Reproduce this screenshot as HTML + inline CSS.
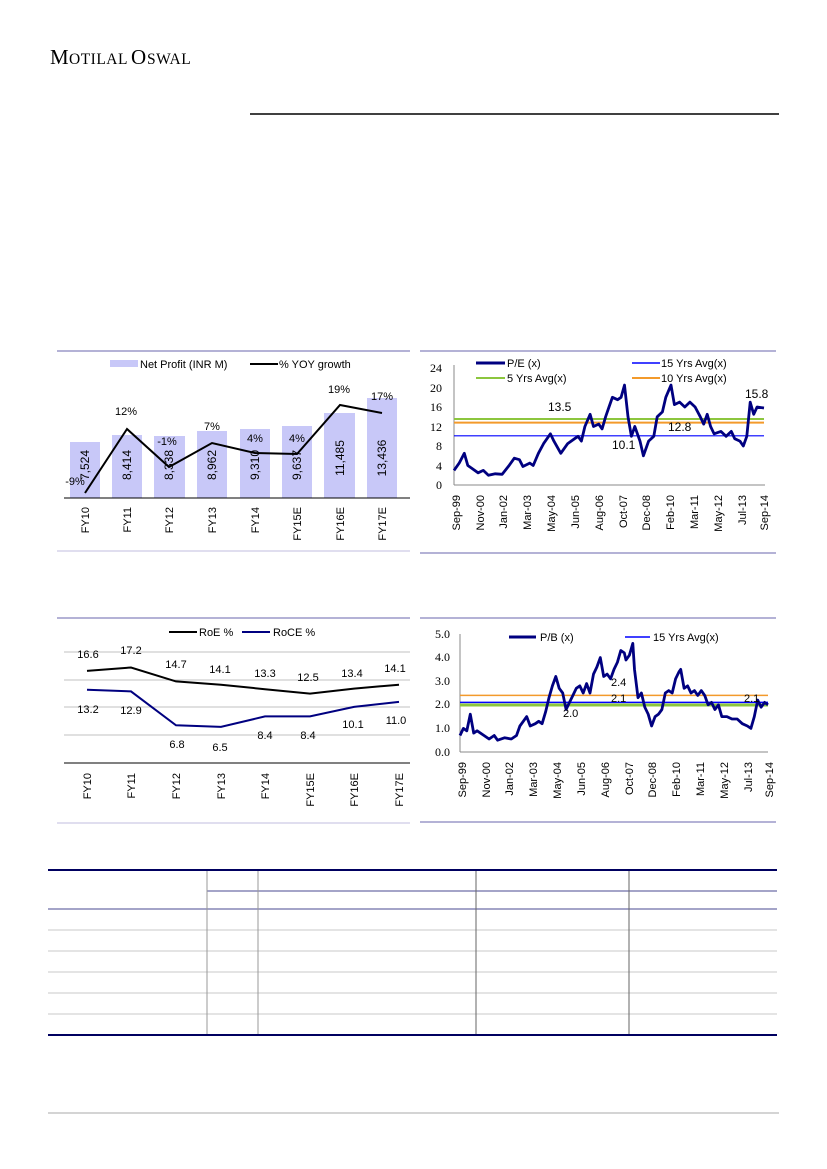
<!DOCTYPE html>
<html><head><meta charset="utf-8"><style>
body{margin:0;background:#fff}
svg{display:block}
text{font-family:"Liberation Sans",sans-serif;font-size:11px;fill:#000}
.s{font-family:"Liberation Serif",serif}
.t text{font-family:"Liberation Serif",serif;font-size:12px}
</style></head><body>
<svg width="827" height="1169" viewBox="0 0 827 1169" xmlns="http://www.w3.org/2000/svg">
<text class="s" x="50" y="64" style="font-size:21px">M</text><text class="s" x="69" y="64" style="font-size:15.5px;letter-spacing:0.5px">OTILAL</text><text class="s" x="131" y="64" style="font-size:21px">O</text><text class="s" x="147" y="64" style="font-size:15.5px;letter-spacing:0.5px">SWAL</text>
<line x1="250" y1="114" x2="779" y2="114" stroke="#000" stroke-width="1.5"/>

<!-- Chart 1 -->
<line x1="57" y1="351" x2="410" y2="351" stroke="#9c98c8" stroke-width="1.5"/>
<line x1="57" y1="551" x2="410" y2="551" stroke="#d6d4ea" stroke-width="1.5"/>
<rect x="110" y="360" width="28" height="7" fill="#c8c8f8"/>
<text x="140" y="368">Net Profit (INR M)</text>
<line x1="250" y1="364" x2="278" y2="364" stroke="#000" stroke-width="2"/>
<text x="279" y="368">% YOY growth</text>
<g fill="#c8c8f8">
<rect x="70" y="442" width="30" height="56"/><rect x="112" y="435" width="30" height="63"/>
<rect x="154" y="436" width="31" height="62"/><rect x="197" y="431" width="30" height="67"/>
<rect x="240" y="429" width="30" height="69"/><rect x="282" y="426" width="30" height="72"/>
<rect x="324" y="413" width="31" height="85"/><rect x="367" y="398" width="30" height="100"/>
</g>
<line x1="64" y1="498" x2="410" y2="498" stroke="#000" stroke-width="1"/>
<g>
<text transform="translate(89,465) rotate(-90)" text-anchor="middle" style="font-size:12px">7,524</text>
<text transform="translate(131,465) rotate(-90)" text-anchor="middle" style="font-size:12px">8,414</text>
<text transform="translate(173,465) rotate(-90)" text-anchor="middle" style="font-size:12px">8,338</text>
<text transform="translate(216,465) rotate(-90)" text-anchor="middle" style="font-size:12px">8,962</text>
<text transform="translate(259,465) rotate(-90)" text-anchor="middle" style="font-size:12px">9,310</text>
<text transform="translate(301,465) rotate(-90)" text-anchor="middle" style="font-size:12px">9,637</text>
<text transform="translate(344,458) rotate(-90)" text-anchor="middle" style="font-size:12px">11,485</text>
<text transform="translate(386,458) rotate(-90)" text-anchor="middle" style="font-size:12px">13,436</text>
</g>
<polyline points="85,493 127,429 169,467 212,443 255,453 297,454 340,405 382,413" fill="none" stroke="#000" stroke-width="2"/>
<g text-anchor="middle">
<text x="75" y="485">-9%</text><text x="126" y="415">12%</text><text x="167" y="445">-1%</text>
<text x="212" y="430">7%</text><text x="255" y="442">4%</text><text x="297" y="442">4%</text>
<text x="339" y="393">19%</text><text x="382" y="400">17%</text>
</g>
<g text-anchor="end">
<text transform="translate(89,507) rotate(-90)">FY10</text><text transform="translate(131,507) rotate(-90)">FY11</text>
<text transform="translate(173,507) rotate(-90)">FY12</text><text transform="translate(216,507) rotate(-90)">FY13</text>
<text transform="translate(259,507) rotate(-90)">FY14</text><text transform="translate(301,507) rotate(-90)">FY15E</text>
<text transform="translate(344,507) rotate(-90)">FY16E</text><text transform="translate(386,507) rotate(-90)">FY17E</text>
</g>

<!-- Chart 2 P/E -->
<line x1="420" y1="351" x2="776" y2="351" stroke="#9c98c8" stroke-width="1.5"/>
<line x1="420" y1="553" x2="776" y2="553" stroke="#9c98c8" stroke-width="1.5"/>
<line x1="454" y1="365" x2="454" y2="485" stroke="#888"/>
<line x1="454" y1="485" x2="765" y2="485" stroke="#888"/>
<g text-anchor="end" class="t">
<text x="442" y="372">24</text><text x="442" y="392">20</text><text x="442" y="411">16</text><text x="442" y="431">12</text>
<text x="442" y="450">8</text><text x="442" y="470">4</text><text x="442" y="489">0</text>
</g>
<line x1="476" y1="363" x2="505" y2="363" stroke="#000080" stroke-width="3"/><text x="507" y="367">P/E (x)</text>
<line x1="632" y1="363" x2="660" y2="363" stroke="#0000ff" stroke-width="1.5"/><text x="661" y="367">15 Yrs Avg(x)</text>
<line x1="476" y1="378" x2="505" y2="378" stroke="#8cc63e" stroke-width="2"/><text x="507" y="382">5 Yrs Avg(x)</text>
<line x1="632" y1="378" x2="660" y2="378" stroke="#f39a2b" stroke-width="2"/><text x="661" y="382">10 Yrs Avg(x)</text>
<line x1="454" y1="419" x2="764" y2="419" stroke="#8cc63e" stroke-width="2"/>
<line x1="454" y1="422.6" x2="764" y2="422.6" stroke="#f39a2b" stroke-width="2"/>
<line x1="454" y1="435.8" x2="764" y2="435.8" stroke="#0000ff" stroke-width="1.2"/>
<polyline fill="none" stroke="#000080" stroke-width="2.8" stroke-linejoin="round" points="454,470.4 459.2,463.1 464.3,453.3 467.8,465.5 471.2,467.9 478.1,472.8 483.3,470.4 488.4,475.3 495.3,473.8 502.2,474.3 509.1,465.5 514.3,458.2 519.4,459.7 522.9,466.5 529.8,463.1 533.2,465.5 538.4,453.3 543.6,443.6 550.4,433.8 553.9,441.1 560.8,453.3 567.7,443.6 574.6,438.7 578,436.3 581.4,441.1 584.9,426.5 590.1,414.3 593.5,426.5 598.7,424.1 602.1,428.9 605.6,416.8 609,407 612.4,397.3 617.6,399.7 621.1,397.3 624.5,385.1 628,416.8 631.4,436.3 634.8,426.5 640,441.1 643.4,455.8 648.6,441.1 653.8,436.3 657.2,416.8 662.4,411.9 665.8,397.3 671,385.1 674.4,404.6 679.6,402.1 684.8,407 689.9,402.1 695.1,407 700.3,416.8 703.7,424.1 707.2,414.3 710.6,426.5 714.1,433.8 720.9,431.4 726.1,436.3 731.3,431.4 734.7,438.7 739.9,441.1 743.3,446 746.8,436.3 750.2,402.1 753.7,414.3 757.1,407 764,408"/>
<text x="548" y="411" style="font-size:12px">13.5</text><text x="612" y="449" style="font-size:12px">10.1</text>
<text x="668" y="431" style="font-size:12px">12.8</text><text x="745" y="398" style="font-size:12px">15.8</text>
<g text-anchor="end">
<text transform="translate(460,495) rotate(-90)">Sep-99</text><text transform="translate(484,495) rotate(-90)">Nov-00</text>
<text transform="translate(507,495) rotate(-90)">Jan-02</text><text transform="translate(531,495) rotate(-90)">Mar-03</text>
<text transform="translate(555,495) rotate(-90)">May-04</text><text transform="translate(579,495) rotate(-90)">Jun-05</text>
<text transform="translate(603,495) rotate(-90)">Aug-06</text><text transform="translate(627,495) rotate(-90)">Oct-07</text>
<text transform="translate(650,495) rotate(-90)">Dec-08</text><text transform="translate(674,495) rotate(-90)">Feb-10</text>
<text transform="translate(698,495) rotate(-90)">Mar-11</text><text transform="translate(722,495) rotate(-90)">May-12</text>
<text transform="translate(746,495) rotate(-90)">Jul-13</text><text transform="translate(768,495) rotate(-90)">Sep-14</text>
</g>

<!-- Chart 3 RoE -->
<line x1="57" y1="618" x2="410" y2="618" stroke="#9c98c8" stroke-width="1.5"/>
<line x1="57" y1="823" x2="410" y2="823" stroke="#d6d4ea" stroke-width="1.5"/>
<line x1="169" y1="632" x2="197" y2="632" stroke="#000" stroke-width="2"/><text x="199" y="636">RoE %</text>
<line x1="242" y1="632" x2="270" y2="632" stroke="#000080" stroke-width="2"/><text x="273" y="636">RoCE %</text>
<g stroke="#c0c0c0"><line x1="64" y1="652" x2="410" y2="652"/><line x1="64" y1="680" x2="410" y2="680"/><line x1="64" y1="707" x2="410" y2="707"/><line x1="64" y1="735" x2="410" y2="735"/></g>
<line x1="64" y1="763" x2="410" y2="763" stroke="#000"/>
<polyline fill="none" stroke="#000" stroke-width="2" points="87,670.9 131,667.5 176,681.4 221,684.7 265,689.2 310,693.6 354,688.6 399,684.7"/>
<polyline fill="none" stroke="#000080" stroke-width="2" points="87,689.7 131,691.4 176,725.3 221,726.9 265,716.4 310,716.4 354,706.9 399,701.9"/>
<g text-anchor="middle">
<text x="88" y="658">16.6</text><text x="131" y="654">17.2</text><text x="176" y="668">14.7</text><text x="220" y="673">14.1</text>
<text x="265" y="677">13.3</text><text x="308" y="681">12.5</text><text x="352" y="677">13.4</text><text x="395" y="672">14.1</text>
<text x="88" y="713">13.2</text><text x="131" y="714">12.9</text><text x="177" y="748">6.8</text><text x="220" y="751">6.5</text>
<text x="265" y="739">8.4</text><text x="308" y="739">8.4</text><text x="353" y="728">10.1</text><text x="396" y="724">11.0</text>
</g>
<g text-anchor="end">
<text transform="translate(91,773) rotate(-90)">FY10</text><text transform="translate(135,773) rotate(-90)">FY11</text>
<text transform="translate(180,773) rotate(-90)">FY12</text><text transform="translate(225,773) rotate(-90)">FY13</text>
<text transform="translate(269,773) rotate(-90)">FY14</text><text transform="translate(314,773) rotate(-90)">FY15E</text>
<text transform="translate(358,773) rotate(-90)">FY16E</text><text transform="translate(403,773) rotate(-90)">FY17E</text>
</g>

<!-- Chart 4 P/B -->
<line x1="420" y1="618" x2="776" y2="618" stroke="#9c98c8" stroke-width="1.5"/>
<line x1="420" y1="822" x2="776" y2="822" stroke="#9c98c8" stroke-width="1.5"/>
<line x1="460" y1="634" x2="460" y2="752" stroke="#888"/>
<line x1="460" y1="752" x2="768" y2="752" stroke="#888"/>
<g text-anchor="end" class="t">
<text x="450" y="638">5.0</text><text x="450" y="661">4.0</text><text x="450" y="685">3.0</text><text x="450" y="708">2.0</text>
<text x="450" y="732">1.0</text><text x="450" y="756">0.0</text>
</g>
<line x1="509" y1="637" x2="536" y2="637" stroke="#000080" stroke-width="3"/><text x="540" y="641">P/B (x)</text>
<line x1="625" y1="637" x2="650" y2="637" stroke="#0000ff" stroke-width="1.5"/><text x="653" y="641">15 Yrs Avg(x)</text>
<line x1="460" y1="695.4" x2="768" y2="695.4" stroke="#f39a2b" stroke-width="1.5"/>
<line x1="460" y1="705" x2="768" y2="705" stroke="#8cc63e" stroke-width="3"/>
<line x1="460" y1="702.4" x2="768" y2="702.4" stroke="#0000ff" stroke-width="1.5"/>
<polyline fill="none" stroke="#000080" stroke-width="2.8" stroke-linejoin="round" points="460,735.5 463.4,728.4 466.8,730.8 470.3,714.2 473.7,733.1 477.1,730.8 484,735.5 489.1,739 494.2,735.5 497.6,740.2 504.5,737.8 511.3,739 516.5,735.5 519.9,726 523.3,721.3 526.7,716.6 530.2,726 535.3,723.7 538.7,721.3 542.1,723.7 545.6,711.9 549,697.7 552.4,685.9 555.8,676.5 559.2,688.3 562.7,693 566.1,709.5 569.5,702.4 572.9,695.4 576.3,688.3 579.8,685.9 583.2,693 586.6,683.6 590,693 593.5,674.1 596.9,667 600.3,657.6 603.7,676.5 607.1,674.1 610.6,678.8 614,669.4 617.4,662.3 620.8,650.5 624.3,652.9 626,660 629.4,655.2 632.8,643.4 634.5,669.4 638,697.7 641.4,693 644.8,707.2 648.2,714.2 651.6,726 655.1,716.6 658.5,714.2 661.9,709.5 665.3,693 668.7,690.6 672.2,693 675.6,678.8 679,671.8 680.7,669.4 684.1,688.3 687.6,685.9 691,693 694.4,690.6 697.8,695.4 701.3,690.6 704.7,695.4 708.1,704.8 711.5,702.4 714.9,709.5 718.4,704.8 721.8,716.6 726.9,716.6 732,719 737.2,719 742.3,723.7 747.4,726 750.9,728.4 754.3,716.6 757.7,700.1 761.1,707.2 764.6,702.4 768,704.8"/>
<text x="611" y="686">2.4</text><text x="611" y="702">2.1</text><text x="563" y="717">2.0</text><text x="744" y="702">2.1</text>
<g text-anchor="end">
<text transform="translate(466,762) rotate(-90)">Sep-99</text><text transform="translate(490,762) rotate(-90)">Nov-00</text>
<text transform="translate(513,762) rotate(-90)">Jan-02</text><text transform="translate(537,762) rotate(-90)">Mar-03</text>
<text transform="translate(561,762) rotate(-90)">May-04</text><text transform="translate(585,762) rotate(-90)">Jun-05</text>
<text transform="translate(609,762) rotate(-90)">Aug-06</text><text transform="translate(633,762) rotate(-90)">Oct-07</text>
<text transform="translate(656,762) rotate(-90)">Dec-08</text><text transform="translate(680,762) rotate(-90)">Feb-10</text>
<text transform="translate(704,762) rotate(-90)">Mar-11</text><text transform="translate(728,762) rotate(-90)">May-12</text>
<text transform="translate(752,762) rotate(-90)">Jul-13</text><text transform="translate(773,762) rotate(-90)">Sep-14</text>
</g>

<!-- Table -->
<line x1="48" y1="870" x2="777" y2="870" stroke="#000060" stroke-width="2"/>
<line x1="207" y1="891" x2="777" y2="891" stroke="#4a4a90" stroke-width="1"/>
<line x1="48" y1="909" x2="777" y2="909" stroke="#4a4a90" stroke-width="1"/>
<g stroke="#c8c8c8"><line x1="48" y1="930" x2="777" y2="930"/><line x1="48" y1="951" x2="777" y2="951"/><line x1="48" y1="972" x2="777" y2="972"/><line x1="48" y1="993" x2="777" y2="993"/><line x1="48" y1="1014" x2="777" y2="1014"/></g>
<g stroke="#999"><line x1="207" y1="871" x2="207" y2="1035"/><line x1="258" y1="871" x2="258" y2="1035"/></g>
<g stroke="#666"><line x1="476" y1="871" x2="476" y2="1035"/><line x1="629" y1="871" x2="629" y2="1035"/></g>
<line x1="48" y1="1035" x2="777" y2="1035" stroke="#000060" stroke-width="2"/>
<line x1="48" y1="1113" x2="779" y2="1113" stroke="#aaa" stroke-width="1"/>
</svg>
</body></html>
